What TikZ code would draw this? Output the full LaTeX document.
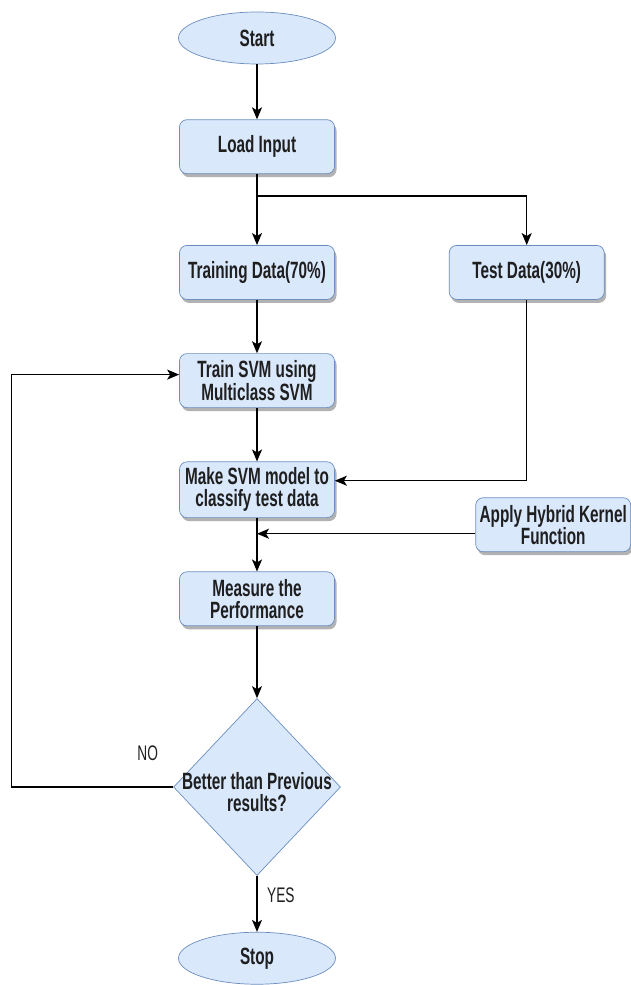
\documentclass[tikz,border=0pt]{standalone}
\usepackage{fontspec}
\setmainfont{Liberation Sans}[FakeStretch=0.65]
\usetikzlibrary{positioning,shapes.geometric,arrows.meta,shadows}
\definecolor{boxfill}{HTML}{DAE8FC}
\definecolor{boxline}{HTML}{6C8EBF}
\definecolor{ink}{HTML}{1F1F1F}

\begin{document}
\begin{tikzpicture}[
        every node/.style={ text=ink, font=\fontsize{13.4}{12.6}\selectfont\bfseries },
        box/.style={ draw=boxline, fill=boxfill, rounded corners=1.5mm, minimum width=31mm, minimum height=10.8mm, inner xsep=1pt, align=center,
                     drop shadow={shadow xshift=0.4mm, shadow yshift=-0.7mm, opacity=0.3, fill=black} },
        term/.style={ ellipse, draw=boxline, fill=boxfill, minimum width=31.4mm, minimum height=10.4mm },
        decision/.style={ diamond, draw=boxline, fill=boxfill, minimum width=33.4mm, minimum height=35.4mm, inner sep=0pt },
        flow/.style={ draw=black, line width=0.8pt, -{Stealth[length=2.4mm,width=2mm,inset=0.6mm]} },
        answer/.style={ font=\fontsize{12}{12}\selectfont, inner sep=1pt },
        node distance=10.7mm
    ]
        \useasboundingbox (0,0) rectangle (12.6,-19.7);

        \node[term] (start) at (5.14,-0.76) {Start};
        \node[box, below=11mm of start] (load) {Load Input};
        \coordinate[below=4.4mm of load.south] (split);
        \node[box, below=14.2mm of load] (train) {Training Data(70\%)};
        \node[box, right=22.8mm of train] (test) {Test Data(30\%)};
        \node[box, below=of train] (svm) {Train SVM using\\Multiclass SVM};
        \node[box, below=of svm] (model) {Make SVM model to\\classify test data};
        \node[box, right=28.1mm of model, yshift=-7mm] (kernel) {Apply Hybrid Kernel\\Function};
        \node[box, below=of model] (measure) {Measure the\\Performance};
        \node[decision, below=14.4mm of measure,
              label={[yshift=-1mm, align=center]center:Better than Previous\\results?}] (check) {};
        \node[term, below=11.2mm of check] (stop) {Stop};

        \node[answer, above left=4.8mm and 2.6mm of check.west] (no) {NO};
        \node[answer, below right=2mm and 1.6mm of check.south] (yes) {YES};

        \draw[flow] (start) -- (load);
        \draw[line width=0.8pt] (load) -- (split);
        \draw[flow] (split) -- (train);
        \draw[flow] (split) -| (test);
        \draw[flow] (train) -- (svm);
        \draw[flow] (svm) -- (model);
        \draw[flow] (test) |- ([yshift=1.8mm]model.east);
        \draw[flow] (model) -- (measure);
        \draw[flow] ([yshift=-1.8mm]kernel.west) -- ([yshift=-1.8mm]kernel.west -| model.south);
        \draw[flow] (measure) -- (check);
        \draw[flow] (check.west) -| ([xshift=-33.5mm, yshift=1.2mm]svm.west) -- ([yshift=1.2mm]svm.west);
        \draw[flow] (check) -- (stop);
    \end{tikzpicture}
\end{document}
